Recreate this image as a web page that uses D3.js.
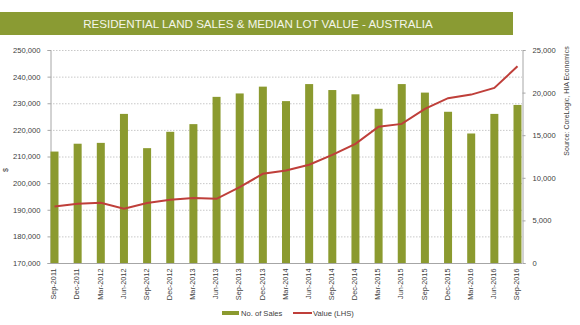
<!DOCTYPE html>
<html><head><meta charset="utf-8">
<script src="https://cdn.jsdelivr.net/npm/d3@7"></script>
<style>body{margin:0;background:#fff;}svg{display:block;font-family:"Liberation Sans",Arial,sans-serif;}</style>
</head><body><svg id="c" width="580" height="325"></svg>
<script>
const categories = ["Sep-2011","Dec-2011","Mar-2012","Jun-2012","Sep-2012","Dec-2012","Mar-2013","Jun-2013","Sep-2013","Dec-2013","Mar-2014","Jun-2014","Sep-2014","Dec-2014","Mar-2015","Jun-2015","Sep-2015","Dec-2015","Mar-2016","Jun-2016","Sep-2016"];
const salesValues = [13080,14000,14100,17500,13480,15400,16300,19500,19900,20700,19000,21000,20300,19800,18100,21000,20000,17750,15200,17500,18550];
const lotValues = [191250,192250,192600,190400,192500,193750,194400,194100,198500,203500,204750,206900,210600,214750,221200,222250,227900,231900,233250,235750,243900];
const leftTicks = [170000,180000,190000,200000,210000,220000,230000,240000,250000];
const rightTicks = [0,5000,10000,15000,20000,25000];
const title = "RESIDENTIAL LAND SALES & MEDIAN LOT VALUE - AUSTRALIA";
const legendLabels = ["No. of Sales","Value (LHS)"];

const svg = d3.select("#c");
const green = "#8b9a2f", red = "#bf3f3a", axisCol = "#a6a6a6", txt = "#404040";
const L = 50, R = 522, T = 50, B = 263;

// title banner
svg.append("rect").attr("x",0).attr("y",12).attr("width",513).attr("height",23).attr("fill","#8a9b33");
svg.append("text").attr("x",258).attr("y",28.2).attr("text-anchor","middle").attr("fill","#f4f6ea")
  .attr("font-size",11.6).text(title);

const x = d3.scalePoint().domain(categories).range([L+4.5, R-4.5]);
const yL = d3.scaleLinear().domain([170000,250000]).range([B,T]);
const yR = d3.scaleLinear().domain([0,25000]).range([B,T]);
const fmt = d3.format(",");

// gridlines
svg.append("g").selectAll("line").data(leftTicks.slice(1)).join("line")
  .attr("x1",L).attr("x2",R).attr("y1",d=>yL(d)+0.5).attr("y2",d=>yL(d)+0.5)
  .attr("stroke","#c8c8c8").attr("stroke-width",1).attr("stroke-dasharray","1.5,1.5");

// left axis
const gL = svg.append("g").attr("transform",`translate(${L+0.5},0)`)
  .call(d3.axisLeft(yL).tickValues(leftTicks).tickFormat(fmt).tickSize(3).tickPadding(7));
gL.select(".domain").attr("stroke",axisCol);
gL.selectAll(".tick line").attr("stroke",axisCol);
gL.selectAll("text").attr("fill",txt).attr("font-size",7.6).attr("font-family","Liberation Sans, Arial, sans-serif");

// right axis
const gR = svg.append("g").attr("transform",`translate(${R+0.5},0)`)
  .call(d3.axisRight(yR).tickValues(rightTicks).tickFormat(fmt).tickSize(3).tickPadding(7));
gR.select(".domain").attr("stroke",axisCol);
gR.selectAll(".tick line").attr("stroke",axisCol);
gR.selectAll("text").attr("fill",txt).attr("font-size",7.6).attr("font-family","Liberation Sans, Arial, sans-serif");

// bars
const bw = 8;
svg.append("g").selectAll("rect").data(categories).join("rect")
  .attr("x",(d)=>x(d)-bw/2).attr("width",bw)
  .attr("y",(d,i)=>yR(salesValues[i])).attr("height",(d,i)=>B-yR(salesValues[i]))
  .attr("fill",green);

// bottom axis
const gB = svg.append("g").attr("transform",`translate(0,${B+0.5})`)
  .call(d3.axisBottom(x).tickSize(0).tickPadding(4));
gB.select(".domain").attr("stroke",axisCol).attr("d",`M${L},0H${R}`);
gB.selectAll("text").attr("fill",txt).attr("font-size",7.3).attr("font-family","Liberation Sans, Arial, sans-serif")
  .attr("text-anchor","end").attr("transform","rotate(-90)").attr("dx","-5").attr("dy","-0.1em").attr("y",0).attr("x",0)
  .attr("dominant-baseline","middle");

// line
const line = d3.line().x((d,i)=>x(categories[i])).y(d=>yL(d));
svg.append("path").datum(lotValues).attr("d",line).attr("fill","none").attr("stroke",red).attr("stroke-width",2);

// $ label
svg.append("text").attr("transform","translate(8,170) rotate(-90)").attr("text-anchor","middle")
  .attr("font-size",7).attr("fill",txt).text("$");

// source
svg.append("text").attr("transform","translate(569,101) rotate(-90)").attr("text-anchor","middle")
  .attr("font-size",7).attr("fill",txt).text("Source: CoreLogic, HIA Economics");

// legend
svg.append("rect").attr("x",222).attr("y",311).attr("width",17).attr("height",4).attr("fill",green);
svg.append("text").attr("x",241).attr("y",316).attr("font-size",7.6).attr("fill",txt).text(legendLabels[0]);
svg.append("line").attr("x1",293).attr("x2",312).attr("y1",313).attr("y2",313).attr("stroke",red).attr("stroke-width",2);
svg.append("text").attr("x",313).attr("y",316).attr("font-size",7.6).attr("fill",txt).text(legendLabels[1]);
</script></body></html>
